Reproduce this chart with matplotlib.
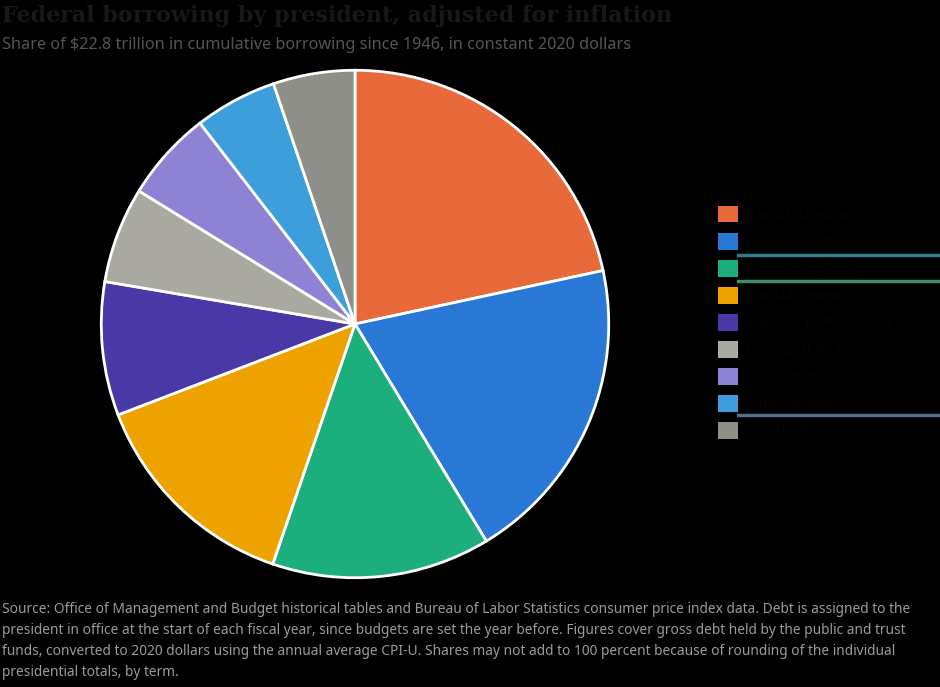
import matplotlib
matplotlib.use("Agg")
import matplotlib.pyplot as plt
from matplotlib.lines import Line2D

# share of cumulative inflation-adjusted borrowing, percent
presidents = ["Barack Obama", "Donald Trump", "George W. Bush", "Ronald Reagan",
              "Franklin D. Roosevelt", "George H.W. Bush", "Bill Clinton",
              "Jimmy Carter", "All others"]
shares = [21.6, 19.7, 13.9, 13.9, 8.5, 6.1, 5.75, 5.25, 5.2]
colors = ["#E8693A", "#2A78D6", "#1DAE7D", "#EEA200", "#4A38A6",
          "#A9A9A1", "#8E82D4", "#3C9FDB", "#8F8F89"]

title = "Federal borrowing by president, adjusted for inflation"
subtitle = "Share of $22.8 trillion in cumulative borrowing since 1946, in constant 2020 dollars"
footnote = [
    "Source: Office of Management and Budget historical tables and Bureau of Labor Statistics consumer price index data. Debt is assigned to the",
    "president in office at the start of each fiscal year, since budgets are set the year before. Figures cover gross debt held by the public and trust",
    "funds, converted to 2020 dollars using the annual average CPI-U. Shares may not add to 100 percent because of rounding of the individual",
    "presidential totals, by term.",
]

fig = plt.figure(figsize=(9.4, 6.87), dpi=100, facecolor="black")

ax = fig.add_axes([100 / 940, 1 - 579 / 687, 510 / 940, 510 / 687])
ax.set_facecolor("black")
wedges, _ = ax.pie(shares, colors=colors, startangle=90, counterclock=False,
                   wedgeprops=dict(edgecolor="white", linewidth=2))
ax.set_xlim(-1.005, 1.005)
ax.set_ylim(-1.005, 1.005)
ax.set_aspect("equal")

handles = [plt.Rectangle((0, 0), 1, 1, facecolor=c, edgecolor="none") for c in colors]
leg = fig.legend(handles, presidents, loc="upper left",
                 bbox_to_anchor=(718 / 940, 1 - 206 / 687), frameon=False,
                 fontsize=10, handlelength=1.45, handleheight=1.45,
                 handletextpad=0.6, labelspacing=0.76, borderpad=0,
                 borderaxespad=0)
for t in leg.get_texts():
    t.set_color("#050505")

# underline marks next to a few legend entries
for y, c in [(255, "#2F7F8A"), (281, "#3F8F6A"), (415, "#4F6F8A")]:
    fig.add_artist(Line2D([738 / 940, 1], [1 - y / 687] * 2, color=c, lw=2.5))

fig.text(0.002, 1 - 5 / 687, title, ha="left", va="top", fontsize=16,
         fontweight="bold", family="DejaVu Serif", color="#181818")
fig.text(0.002, 1 - 37 / 687, subtitle, ha="left", va="top", fontsize=11.7,
         family="Noto Sans", color="#555555")
for i, line in enumerate(footnote):
    fig.text(0.002, 1 - (602 + 21 * i) / 687, line, ha="left", va="top",
             fontsize=9.9, family="Noto Sans", color="#9a9a9a")

fig.savefig("out.png", dpi=100, facecolor="black")
